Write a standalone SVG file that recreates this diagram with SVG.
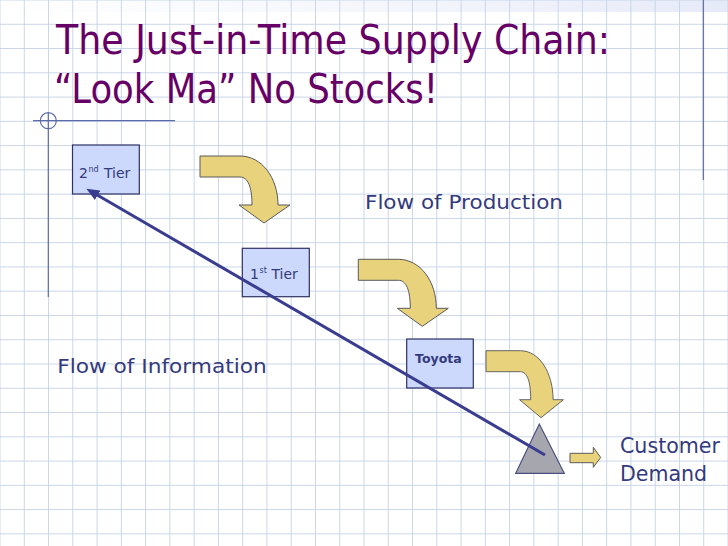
<svg xmlns="http://www.w3.org/2000/svg" width="728" height="546" viewBox="0 0 728 546">
  <style>
    .title { font-family: "DejaVu Sans", "Liberation Sans", sans-serif; font-size: 40px; fill: #660066; }
    .lbl { font-family: "DejaVu Sans", "Liberation Sans", sans-serif; fill: #333a7d; }
    .tier { font-size: 14px; }
    .sup { font-size: 8px; }
    .box { fill: #ccd8fc; stroke: #2e3163; stroke-width: 1.2; }
    .flow { fill: #e8d37c; stroke: #5a5a5a; stroke-width: 1; }
    .deco { stroke: #5b6aa8; stroke-width: 1.2; fill: none; }
  </style>
  <defs>
    <pattern id="grid" patternUnits="userSpaceOnUse" x="12.133" y="12.133" width="24.2667" height="24.2667">
      <path d="M12.133 0V24.2667M0 12.133H24.2667" stroke="#c9d5e8" stroke-width="1" fill="none"/>
    </pattern>
    <linearGradient id="band" x1="0" y1="0" x2="1" y2="0">
      <stop offset="0" stop-color="#eef1fb" stop-opacity="0"/>
      <stop offset="0.5" stop-color="#eef1fb" stop-opacity="0.6"/>
      <stop offset="1" stop-color="#e6eaf8" stop-opacity="1"/>
    </linearGradient>
    <path id="curved" d="M0,0 H40 C62,0 78,22 78,49 H90 L64,67 L39,49 H52 C52,31 48,21 40,21 H0 Z"/>
    <marker id="head" markerUnits="userSpaceOnUse" markerWidth="13" markerHeight="11" refX="0.5" refY="5.5" orient="auto" viewBox="0 0 13 11">
      <path d="M0,0 L13,5.5 L0,11 Z" fill="#3a3d8f"/>
    </marker>
  </defs>

  <rect x="0" y="0" width="728" height="546" fill="#ffffff"/>
  <rect x="0" y="0" width="728" height="12" fill="url(#band)"/>
  <rect x="0" y="0" width="728" height="546" fill="url(#grid)"/>

  <g id="decoration">
    <line class="deco" x1="33" y1="120.7" x2="175" y2="120.7"/>
    <circle class="deco" cx="48.3" cy="120.7" r="8"/>
    <line class="deco" x1="48.3" y1="113" x2="48.3" y2="297"/>
    <line x1="703.3" y1="0" x2="703.3" y2="180" stroke="#5b6a9a" stroke-width="1.2"/>
  </g>

  <g id="title">
    <text class="title" x="56" y="54" textLength="554" lengthAdjust="spacingAndGlyphs">The Just-in-Time Supply Chain:</text>
    <text class="title" x="54" y="103" textLength="384" lengthAdjust="spacingAndGlyphs">“Look Ma” No Stocks!</text>
  </g>

  <g id="tier2">
    <rect class="box" x="72.5" y="145" width="66.8" height="49"/>
    <text class="lbl tier" x="79" y="177.5">2</text>
    <text class="lbl sup" x="88.5" y="172">nd</text>
    <text class="lbl tier" x="104" y="177.5">Tier</text>
  </g>
  <g id="tier1">
    <rect class="box" x="242.3" y="248.3" width="67" height="48.4"/>
    <text class="lbl tier" x="250" y="278.5">1</text>
    <text class="lbl sup" x="259.5" y="273">st</text>
    <text class="lbl tier" x="271.5" y="278.5">Tier</text>
  </g>
  <g id="toyota">
    <rect class="box" x="406.7" y="339" width="66.6" height="49"/>
    <text class="lbl" x="415" y="363.3" style="font-size:12px;font-weight:bold" textLength="46.7" lengthAdjust="spacingAndGlyphs">Toyota</text>
  </g>
  <g id="customer">
    <polygon points="515.7,473.3 564.3,473.3 539.3,424" fill="#a6a7ae" stroke="#4a4e80" stroke-width="1.2"/>
  </g>

  <g id="connectors">
    <use href="#curved" class="flow" transform="translate(200,156)"/>
    <use href="#curved" class="flow" transform="translate(358.3,259.3)"/>
    <use href="#curved" class="flow" transform="translate(486,350.7) scale(0.86,1)"/>
    <path class="flow" d="M570,453.3 H593.3 V447.3 L600.7,457.5 L593.3,467.3 V462.7 H570 Z"/>
    <line x1="545" y1="455" x2="97.2" y2="195" stroke="#3a3d8f" stroke-width="3" marker-end="url(#head)"/>
  </g>

  <g id="labels">
    <text class="lbl" x="365" y="209" style="font-size:20px" textLength="198" lengthAdjust="spacingAndGlyphs">Flow of Production</text>
    <text class="lbl" x="57.3" y="373.3" style="font-size:20px" textLength="209.4" lengthAdjust="spacingAndGlyphs">Flow of Information</text>
    <text class="lbl" x="620" y="453.3" style="font-size:22px" textLength="100" lengthAdjust="spacingAndGlyphs">Customer</text>
    <text class="lbl" x="620" y="480.5" style="font-size:22px" textLength="87" lengthAdjust="spacingAndGlyphs">Demand</text>
  </g>
</svg>
